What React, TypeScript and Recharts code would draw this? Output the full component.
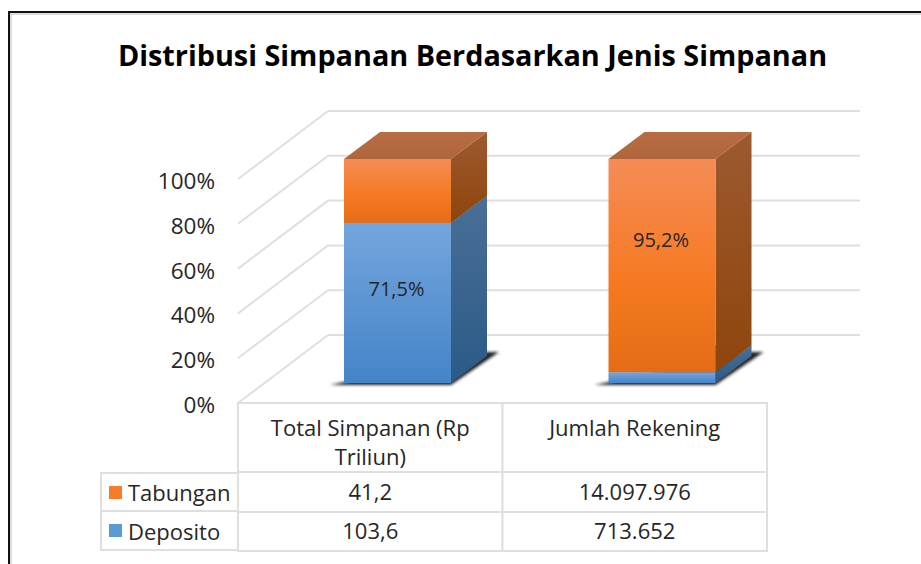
import { Bar, BarChart, CartesianGrid, LabelList, Legend, XAxis, YAxis } from "recharts";

const FONT = '"Open Sans", sans-serif';
const GRID = "#dfdfdf";
const TEXT = "#262626";

const categories = ["Total Simpanan (Rp Triliun)", "Jumlah Rekening"];
const categoryLines = [["Total Simpanan (Rp", "Triliun)"], ["Jumlah Rekening"]];
const depositoPct = [71.5, 4.8];
const tabunganPct = [28.5, 95.2];
const depositoLabels = ["71,5%", ""];
const tabunganLabels = ["", "95,2%"];
const depositoRow = ["103,6", "713.652"];
const tabunganRow = ["41,2", "14.097.976"];
const yTicks = [0, 20, 40, 60, 80, 100];

const data = categories.map((name, i) => ({
  name,
  deposito: depositoPct[i],
  tabungan: tabunganPct[i],
  depositoLabel: depositoLabels[i],
  tabunganLabel: tabunganLabels[i],
}));

// 3d look: the bars sit forward of the axis and have a fixed depth
const SHIFT_X = 27;
const SHIFT_Y = -20;
const DEPTH_X = 36;
const DEPTH_Y = -27;
const WALL_X = 90;
const WALL_Y = -68;
const WALL_END = 860;
const COL_W = 264.5;

function Box({ x, y, width, height, kind }: any) {
  const l = x + SHIFT_X;
  const r = l + width;
  const t = y + SHIFT_Y;
  const b = t + height;
  const dx = DEPTH_X;
  const dy = DEPTH_Y;
  return (
    <g>
      {kind === "blue" && (
        <polygon
          points={`${l - 14},${b + 2} ${r},${b + 2} ${r + dx + 12},${b + dy - 4} ${r + dx},${b + dy - 4}`}
          fill="#222"
          filter="url(#shadowBlur)"
        />
      )}
      <polygon points={`${l},${t} ${l + dx},${t + dy} ${r + dx},${t + dy} ${r},${t}`} fill={`url(#${kind}Top)`} />
      <polygon points={`${r},${t} ${r + dx},${t + dy} ${r + dx},${b + dy} ${r},${b}`} fill={`url(#${kind}Side)`} />
      <rect x={l} y={t} width={width} height={height} fill={`url(#${kind}Front)`} />
    </g>
  );
}

function BarLabel({ x, y, width, height, value }: any) {
  if (!value) return null;
  return (
    <text
      x={x + SHIFT_X + width / 2 - 1}
      y={y + SHIFT_Y + height * 0.283 + 22.7}
      textAnchor="middle"
      dominantBaseline="middle"
      fontFamily={FONT}
      fontSize={20}
      fill={TEXT}
    >
      {value}
    </text>
  );
}

function WallLine({ x1, y1, key }: any) {
  return (
    <g key={key}>
      <line x1={x1} y1={y1} x2={x1 + WALL_X} y2={y1 + WALL_Y} stroke={GRID} strokeWidth={2} />
      <line x1={x1 + WALL_X} y1={y1 + WALL_Y} x2={WALL_END} y2={y1 + WALL_Y} stroke={GRID} strokeWidth={2} />
    </g>
  );
}

function TableColumn({ x, y, payload, index }: any) {
  const left = x - COL_W / 2;
  const lines = categoryLines[index] ?? [payload.value];
  return (
    <g fontFamily={FONT} fontSize={22} fill={TEXT} textAnchor="middle">
      <rect x={left} y={y} width={COL_W} height={69} fill="#fff" stroke={GRID} strokeWidth={2} />
      <rect x={left} y={y + 69} width={COL_W} height={40} fill="#fff" stroke={GRID} strokeWidth={2} />
      <rect x={left} y={y + 109} width={COL_W} height={39} fill="#fff" stroke={GRID} strokeWidth={2} />
      {lines.map((line: string, i: number) => (
        <text key={line} x={x} y={y + 33 + i * 29}>
          {line}
        </text>
      ))}
      <text x={x} y={y + 97}>{tabunganRow[index]}</text>
      <text x={x} y={y + 136}>{depositoRow[index]}</text>
    </g>
  );
}

function RowHeaders({ payload }: any) {
  const rows = [...(payload ?? [])].reverse();
  return (
    <div style={{ width: 139, fontFamily: FONT, fontSize: 22, color: TEXT, boxSizing: "border-box" }}>
      {rows.map((row: any, i: number) => (
        <div
          key={row.value}
          style={{
            height: i === 0 ? 40 : 39,
            boxSizing: "border-box",
            border: `2px solid ${GRID}`,
            borderTop: i === 0 ? `2px solid ${GRID}` : "none",
            display: "flex",
            alignItems: "center",
            paddingLeft: 7,
            gap: 6,
          }}
        >
          <span style={{ width: 13, height: 13, background: row.color, display: "inline-block" }} />
          {row.value}
        </div>
      ))}
    </div>
  );
}

export default function App() {
  return (
    <div style={{ position: "absolute", left: 0, top: 0, width: 921, height: 564, overflow: "hidden", background: "#fff" }}>
      <div
        style={{
          position: "absolute",
          left: 8,
          top: 11,
          width: 930,
          height: 570,
          boxSizing: "border-box",
          border: "2px solid #111",
          boxShadow: "inset 2px 2px 0 #dcdcdc",
        }}
      />
      <div
        style={{
          position: "absolute",
          left: 0,
          width: 945,
          top: 35,
          textAlign: "center",
          fontFamily: FONT,
          fontWeight: 700,
          fontSize: 28.8,
          lineHeight: "40px",
          color: "#000",
        }}
      >
        Distribusi Simpanan Berdasarkan Jenis Simpanan
      </div>
      <BarChart
        width={921}
        height={564}
        data={data}
        margin={{ top: 179, right: 154, bottom: 131, left: 178 }}
        barSize={107}
        style={{ position: "absolute", left: 0, top: 0 }}
      >
        <defs>
          <linearGradient id="blueFront" x1="0" y1="0" x2="0" y2="1">
            <stop offset="0%" stopColor="#74a6dd" />
            <stop offset="100%" stopColor="#4484c8" />
          </linearGradient>
          <linearGradient id="blueSide" x1="0" y1="0" x2="0" y2="1">
            <stop offset="0%" stopColor="#4a6f96" />
            <stop offset="100%" stopColor="#2a5a87" />
          </linearGradient>
          <linearGradient id="blueTop" x1="0" y1="0" x2="0" y2="1">
            <stop offset="0%" stopColor="#4a6f96" />
            <stop offset="100%" stopColor="#4a6f96" />
          </linearGradient>
          <linearGradient id="orangeFront" x1="0" y1="0" x2="0" y2="1">
            <stop offset="0%" stopColor="#f58c56" />
            <stop offset="55%" stopColor="#f67a24" />
            <stop offset="100%" stopColor="#e56c16" />
          </linearGradient>
          <linearGradient id="orangeSide" x1="0" y1="0" x2="0" y2="1">
            <stop offset="0%" stopColor="#9c5a30" />
            <stop offset="100%" stopColor="#8f450c" />
          </linearGradient>
          <linearGradient id="orangeTop" x1="0" y1="0" x2="0" y2="1">
            <stop offset="0%" stopColor="#b76c42" />
            <stop offset="100%" stopColor="#b0663c" />
          </linearGradient>
          <filter id="shadowBlur" x="-10%" y="-20%" width="120%" height="140%">
            <feGaussianBlur stdDeviation="1.5" />
          </filter>
        </defs>
        <CartesianGrid vertical={false} horizontal={(props: any) => <WallLine {...props} />} />
        <XAxis
          dataKey="name"
          axisLine={false}
          tickLine={false}
          tickSize={0}
          tickMargin={0}
          interval={0}
          height={30}
          tick={(props: any) => <TableColumn {...props} />}
        />
        <YAxis
          domain={[0, 100]}
          ticks={yTicks}
          width={60}
          axisLine={false}
          tickLine={false}
          tickSize={0}
          tickMargin={23}
          tickFormatter={(v: number) => `${v}%`}
          tick={{ fontFamily: FONT, fontSize: 22.5, fill: TEXT, dy: 2 }}
        />
        <Legend
          layout="horizontal"
          verticalAlign="middle"
          align="center"
          wrapperStyle={{ position: "absolute", left: 100, top: 472, width: 139, bottom: "auto", margin: 0 }}
          content={(props: any) => <RowHeaders {...props} />}
        />
        <Bar
          dataKey="deposito"
          name="Deposito"
          stackId="a"
          fill="#5b9bd5"
          isAnimationActive={false}
          shape={(props: any) => <Box {...props} kind="blue" />}
        >
          <LabelList dataKey="depositoLabel" content={(props: any) => <BarLabel {...props} />} />
        </Bar>
        <Bar
          dataKey="tabungan"
          name="Tabungan"
          stackId="a"
          fill="#f47c2a"
          isAnimationActive={false}
          shape={(props: any) => <Box {...props} kind="orange" />}
        >
          <LabelList dataKey="tabunganLabel" content={(props: any) => <BarLabel {...props} />} />
        </Bar>
      </BarChart>
    </div>
  );
}
